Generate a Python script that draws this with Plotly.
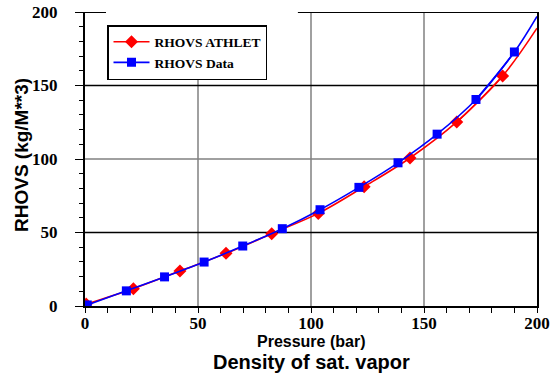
import plotly.graph_objects as go

# Saturated vapour density vs pressure
athlet_p = [0.5, 21.4, 42.0, 62.4, 82.6, 103.2, 123.5, 143.8, 164.5, 184.8]
athlet_rho = [1.3, 11.8, 23.8, 35.8, 49.2, 63.0, 81.2, 100.7, 125.2, 156.5]
athlet_end = [200.0, 189.0]

data_p = [1.0, 18.3, 35.2, 52.7, 69.8, 87.3, 104.0, 121.2, 138.5, 155.8, 173.0, 190.0]
data_rho = [0.7, 10.3, 19.8, 29.9, 40.8, 52.6, 65.5, 80.7, 97.4, 116.9, 140.5, 172.8]
data_end = [200.0, 197.0]

x_ticks = [0, 50, 100, 150, 200]
y_ticks = [0, 50, 100, 150, 200]

RED = "#ff0000"
BLUE = "#0000ff"
GRAY = "#808080"
SERIF = "Liberation Serif, Times New Roman, serif"
SANS = "Liberation Sans, Arial, sans-serif"

fig = go.Figure()

# tail of each curve beyond the last measured point
fig.add_trace(go.Scatter(x=[athlet_p[-2], athlet_p[-1], athlet_end[0]],
                         y=[athlet_rho[-2], athlet_rho[-1], athlet_end[1]],
                         mode="lines", line=dict(color=RED, width=1.6, shape="spline"),
                         showlegend=False, hoverinfo="skip"))
fig.add_trace(go.Scatter(x=[data_p[-2], data_p[-1], data_end[0]],
                         y=[data_rho[-2], data_rho[-1], data_end[1]],
                         mode="lines", line=dict(color=BLUE, width=1.6, shape="spline"),
                         showlegend=False, hoverinfo="skip"))

fig.add_trace(go.Scatter(x=athlet_p, y=athlet_rho, name="RHOVS ATHLET",
                         mode="lines+markers",
                         line=dict(color=RED, width=1.6, shape="spline"),
                         marker=dict(symbol="diamond", size=10, color=RED)))
fig.add_trace(go.Scatter(x=data_p, y=data_rho, name="RHOVS Data",
                         mode="lines+markers",
                         line=dict(color=BLUE, width=1.6, shape="spline"),
                         marker=dict(symbol="square", size=9, color=BLUE)))

shapes = []
# grid lines
for v in x_ticks[1:-1]:
    shapes.append(dict(type="line", xref="x", yref="y", x0=v, x1=v, y0=0, y1=200,
                       line=dict(color=GRAY, width=1.5), layer="below"))
for v in y_ticks[1:-1]:
    col = GRAY if v == 100 else "black"
    shapes.append(dict(type="line", xref="x", yref="y", x0=0, x1=200, y0=v, y1=v,
                       line=dict(color=col, width=1.5), layer="below"))
# blank panel behind the legend
shapes.append(dict(type="rect", xref="x", yref="y", x0=9.3, x1=94.2, y0=155, y1=203,
                   fillcolor="white", line=dict(width=0), layer="between"))
# top frame, interrupted by the legend panel
shapes.append(dict(type="line", xref="x", yref="y", x0=0, x1=9.3, y0=200, y1=200,
                   line=dict(color="black", width=2)))
shapes.append(dict(type="line", xref="x", yref="y", x0=94.2, x1=200, y0=200, y1=200,
                   line=dict(color="black", width=2)))

tick_font = dict(family=SERIF, size=17, color="black", weight="bold")

PLOT_L, PLOT_R, PLOT_T, PLOT_B = 85, 537, 12, 306
PW, PH = PLOT_R - PLOT_L, PLOT_B - PLOT_T


def px(x):
    return (x - PLOT_L) / PW


def py(y):
    return (PLOT_B - y) / PH


fig.update_layout(
    width=559, height=378,
    margin=dict(l=PLOT_L, r=559 - PLOT_R, t=PLOT_T, b=378 - PLOT_B, autoexpand=False),
    paper_bgcolor="white", plot_bgcolor="white",
    font=dict(family=SERIF),
    shapes=shapes,
    showlegend=True,
    legend=dict(x=px(107), y=py(25), xanchor="left", yanchor="top",
                bgcolor="white", bordercolor="black", borderwidth=1.5,
                font=dict(family=SERIF, size=13.5, color="black", weight="bold"),
                itemwidth=36, tracegroupgap=0),
    xaxis=dict(range=[0, 200], tickvals=x_ticks, showgrid=False, zeroline=False,
               showline=True, linecolor="black", linewidth=2, mirror=False,
               ticks="outside", ticklen=5, tickcolor="black", tickwidth=1,
               minor=dict(dtick=10, ticks="outside", ticklen=5, tickcolor="black", tickwidth=1),
               tickfont=tick_font, ticklabelstandoff=-4, automargin=False),
    yaxis=dict(range=[0, 200], tickvals=y_ticks, showgrid=False, zeroline=False,
               showline=True, linecolor="black", linewidth=2, mirror=True,
               ticks="outside", ticklen=8, tickcolor="black", tickwidth=1,
               minor=dict(dtick=10, ticks="outside", ticklen=4, tickcolor="black", tickwidth=1),
               tickfont=tick_font, ticklabelstandoff=14, automargin=False),
    annotations=[
        dict(text="Pressure (bar)", xref="paper", yref="paper",
             x=px(311), y=py(341), xanchor="center", yanchor="middle", showarrow=False,
             font=dict(family=SANS, size=16, color="black", weight="bold")),
        dict(text="Density of sat. vapor", xref="paper", yref="paper",
             x=px(311), y=py(362), xanchor="center", yanchor="middle", showarrow=False,
             font=dict(family=SANS, size=20, color="black", weight="bold")),
        dict(text="RHOVS (kg/M**3)", xref="paper", yref="paper", textangle=-90,
             x=px(21), y=py(155), xanchor="center", yanchor="middle", showarrow=False,
             font=dict(family=SANS, size=19, color="black", weight="bold")),
    ],
)

fig.write_html("out.html")
